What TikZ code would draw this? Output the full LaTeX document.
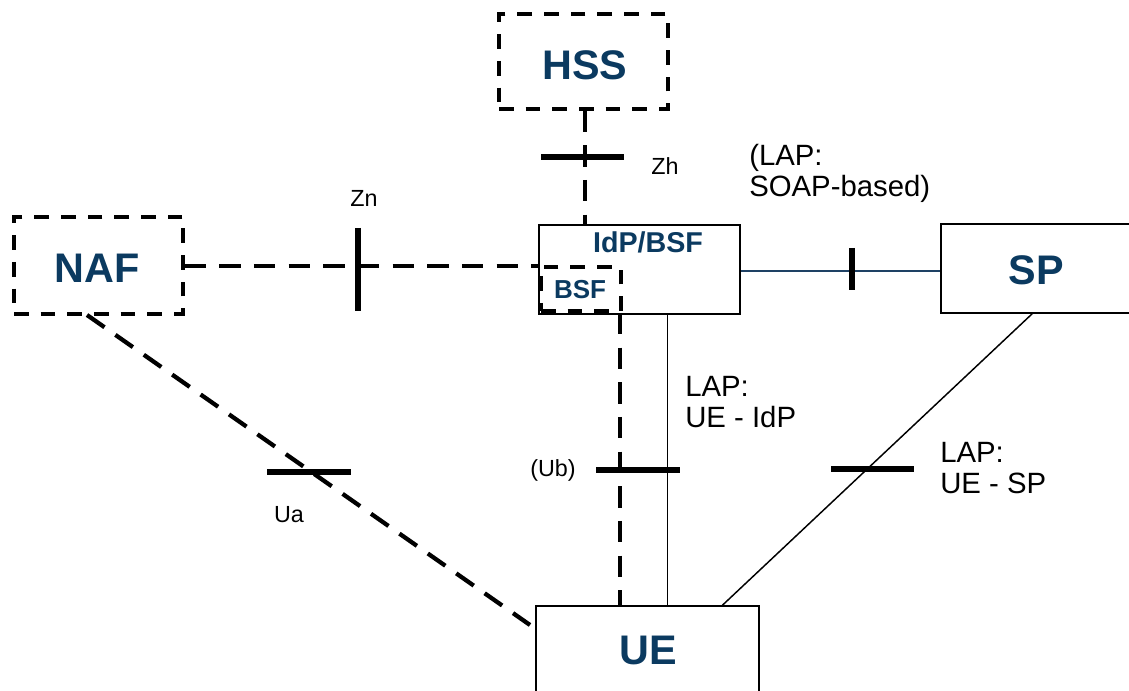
\documentclass[tikz,border=0pt]{standalone}
\usepackage{fontspec}
\setmainfont{Liberation Sans}
\usetikzlibrary{fit}
\definecolor{boxblue}{RGB}{11,58,96}
\definecolor{linkblue}{RGB}{30,65,100}
\tikzset{
  solidbox/.style={draw=black, line width=1.1pt, inner sep=0pt, fill=white},
  dashbox/.style={draw=black, line width=2.3pt, dash pattern=on 11pt off 9pt, inner sep=0pt},
  boxtext/.style={font=\bfseries\fontsize{31}{33}\selectfont, text=boxblue},
  smalltext/.style={font=\bfseries\fontsize{19.5}{21}\selectfont, text=boxblue},
  dashlink/.style={draw=black, line width=3.2pt, dash pattern=on 16pt off 10pt},
  thinlink/.style={draw=black, line width=1.1pt},
  tick/.style={draw=black, line width=4.8pt},
  lbl/.style={font=\fontsize{17.5}{19}\selectfont, inner sep=0pt},
  laplbl/.style={font=\fontsize{22}{23.5}\selectfont, align=left, anchor=north west, inner sep=0pt},
}
\begin{document}
\begin{tikzpicture}[x=0.75pt, y=-0.75pt]
\useasboundingbox (0,0) rectangle (1129,691);
\clip (0,0) rectangle (1129,691);
% boxes
\node[dashbox, fit={(499,14) (668,109)}] (hss) {};
\node[boxtext] (hsst) at (585,65) {HSS};
\node[dashbox, fit={(14,217) (183,314)}] (naf) {};
\node[boxtext] (naft) at (97,268) {NAF};
\node[solidbox, fit={(539,225) (740,314)}] (idp) {};
\node[smalltext, font=\bfseries\fontsize{21.5}{23}\selectfont] (idpt) at (648,242) {IdP/BSF};
\node[dashbox, line width=3pt, fit={(541,267) (621,311)}] (bsf) {};
\node[smalltext] (bsft) at (580,290) {BSF};
\node[solidbox, fit={(941,224) (1160,313)}] (sp) {};
\node[boxtext] (spt) at (1036,270) {SP};
\node[solidbox, fit={(536,606) (759,720)}] (ue) {};
\node[boxtext] (uet) at (648,650) {UE};
% connectors
\draw[dashlink] ([xshift=1.1pt]hss.south) -- ([xshift=1.1pt]hss.south |- idp.north) coordinate (zhend);
\draw[tick] (541,157) coordinate (zh1) -- (624,157) coordinate (zh2);
\draw[dashlink] ([yshift=-1pt]naf.east |- bsf.north west) -- ([xshift=-10pt,yshift=-1pt]bsf.north west) coordinate (znend) -- ([yshift=-1pt]bsf.north west);
\draw[tick] (358,228) coordinate (zn1) -- (358,311) coordinate (zn2);
\draw[dashlink] ([xshift=-2pt]bsf.south east) -- ([xshift=-2pt]bsf.south east |- ue.north);
\draw[tick] (596,470) coordinate (ub1) -- (680,470) coordinate (ub2);
\draw[thinlink] ([xshift=-54.75pt]idp.south east) -- ([xshift=-54.75pt]idp.south east |- ue.north);
\draw[thinlink, draw=linkblue] (idp.east |- 0,271) -- (sp.west |- 0,271);
\draw[tick] (852,248) coordinate (lp1) -- (852,290) coordinate (lp2);
\draw[thinlink] (1033,313) coordinate (spue1) -- ([xshift=-28pt]ue.north east) coordinate (spue2);
\draw[tick] (831,469) coordinate (us1) -- (914,469) coordinate (us2);
\draw[dashlink] (87,315) coordinate (naue1) -- (530,625) coordinate (naue2);
\draw[tick] (267,472) coordinate (ua1) -- (351,472) coordinate (ua2);
% labels
\node[lbl, anchor=west] (zh) at (651,166) {Zh};
\node[lbl] (zn) at (364,198) {Zn};
\node[lbl] (ub) at (553,470) {(Ub)};
\node[lbl] (ua) at (289,515) {Ua};
\node[laplbl] (soap) at (749,144) {(LAP:\\SOAP-based)};
\node[laplbl] (lapidp) at (685,376) {LAP:\\UE - IdP};
\node[laplbl] (lapsp) at (940,442) {LAP:\\UE - SP};
\end{tikzpicture}
\end{document}
